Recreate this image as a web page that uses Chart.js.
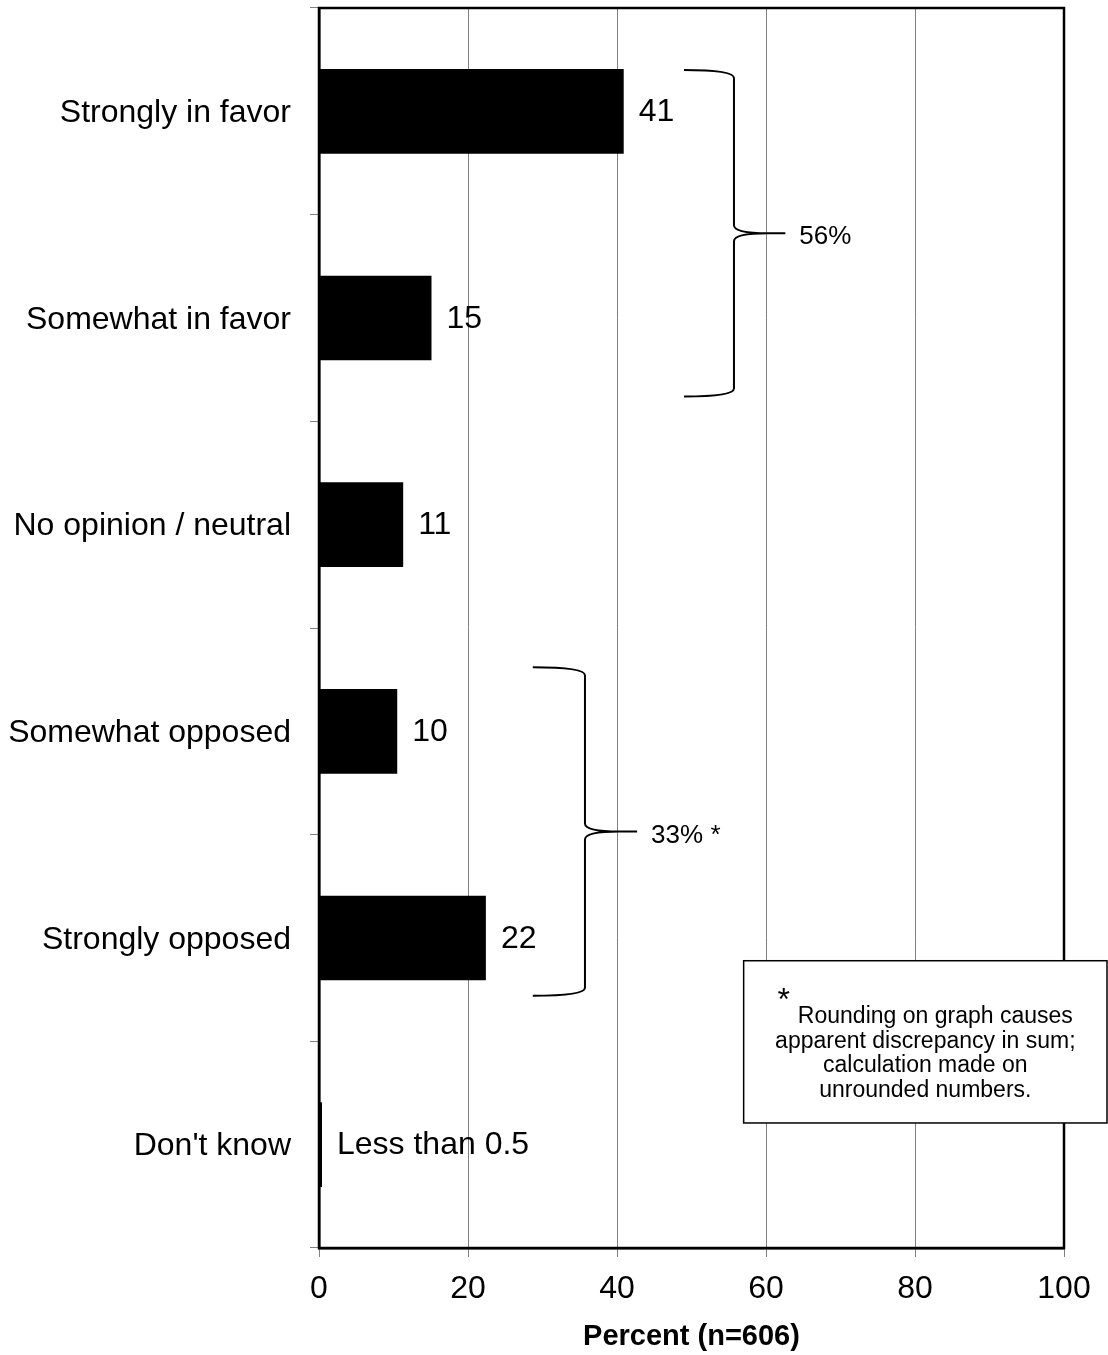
<!DOCTYPE html>
<html>
<head>
<meta charset="utf-8">
<script src="https://cdn.jsdelivr.net/npm/chart.js@4.4.1/dist/chart.umd.min.js"></script>
<style>
  html, body { margin: 0; padding: 0; background: #fff; }
  #wrap { width: 1108px; height: 1355px; }
</style>
</head>
<body>
<div id="wrap"><canvas id="chart"></canvas></div>
<script>
const categories = ["Strongly in favor", "Somewhat in favor", "No opinion / neutral", "Somewhat opposed", "Strongly opposed", "Don't know"];
const percents = [40.9, 15.1, 11.3, 10.5, 22.4, 0.4];
const valueLabels = ["41", "15", "11", "10", "22", "Less than 0.5"];
const xTicks = [0, 20, 40, 60, 80, 100];

// grouped totals shown with braces
const groupLabels = ["56%", "33% *"];
const groupTotals = [56, 33];

const noteLines = ["Rounding on graph causes", "apparent discrepancy in sum;", "calculation made on", "unrounded numbers."];

const FONT = "'Liberation Sans', Arial, Helvetica, sans-serif";

// bar value labels
const valueLabelPlugin = {
  id: "valueLabels",
  afterDatasetsDraw(chart) {
    const ctx = chart.ctx;
    const meta = chart.getDatasetMeta(0);
    ctx.save();
    ctx.font = "32px " + FONT;
    ctx.fillStyle = "#000";
    ctx.textAlign = "left";
    ctx.textBaseline = "middle";
    meta.data.forEach((bar, i) => {
      ctx.fillText(valueLabels[i], bar.x + 15, bar.y + 1);
    });
    ctx.restore();
  }
};

// frame, braces and footnote box
const annotationPlugin = {
  id: "extras",
  afterDraw(chart, args, opts) {
    const ctx = chart.ctx;
    const xs = chart.scales.x;
    const a = chart.chartArea;
    const catY = v => {
      const band = (a.bottom - a.top) / categories.length;
      return a.top + (v + 0.5) * band;
    };

    ctx.save();
    // outer frame
    ctx.strokeStyle = "#000";
    ctx.lineWidth = 2.5;
    ctx.strokeRect(a.left, a.top, a.right - a.left, a.bottom - a.top);

    // braces
    ctx.lineWidth = 2;
    opts.braces.forEach((b, i) => {
      const x0 = xs.getPixelForValue(b.start);
      const xv = xs.getPixelForValue(b.spine);
      const xt = xs.getPixelForValue(b.tip);
      const y0 = catY(b.from);
      const y1 = catY(b.to);
      const ym = (y0 + y1) / 2;
      const r = 8;
      const xj = xv + (xt - xv) * 0.65;
      ctx.beginPath();
      ctx.moveTo(x0, y0);
      ctx.quadraticCurveTo(xv, y0, xv, y0 + r);
      ctx.lineTo(xv, ym - r);
      ctx.quadraticCurveTo(xv, ym, xj, ym);
      ctx.lineTo(xt, ym);
      ctx.moveTo(xj, ym);
      ctx.quadraticCurveTo(xv, ym, xv, ym + r);
      ctx.lineTo(xv, y1 - r);
      ctx.quadraticCurveTo(xv, y1, x0, y1);
      ctx.stroke();

      ctx.font = "26px " + FONT;
      ctx.fillStyle = "#000";
      ctx.textAlign = "left";
      ctx.textBaseline = "middle";
      ctx.fillText(groupLabels[i], xt + 14, ym + 4);
    });

    // footnote box
    const n = opts.note;
    const bx = xs.getPixelForValue(n.left);
    const by0 = catY(n.top);
    const by1 = catY(n.bottom);
    const bx1 = chart.width - 1;
    ctx.fillStyle = "#fff";
    ctx.fillRect(bx, by0, bx1 - bx, by1 - by0);
    ctx.lineWidth = 1.5;
    ctx.strokeStyle = "#000";
    ctx.strokeRect(bx, by0, bx1 - bx, by1 - by0);
    const cx = (bx + bx1) / 2;
    ctx.fillStyle = "#000";
    ctx.textBaseline = "middle";
    ctx.textAlign = "center";
    ctx.font = "23px " + FONT;
    noteLines.forEach((line, i) => {
      const dx = i === 0 ? 10 : 0;
      ctx.fillText(line, cx + dx, by0 + 56 + i * 24.5);
    });
    ctx.textAlign = "left";
    ctx.font = "32px " + FONT;
    const w0 = ctx.measureText("*").width;
    ctx.font = "23px " + FONT;
    const wl = ctx.measureText(noteLines[0]).width;
    ctx.font = "32px " + FONT;
    ctx.fillText("*", cx + 10 - wl / 2 - w0 - 8, by0 + 40);
    ctx.restore();
  }
};

new Chart(document.getElementById("chart"), {
  type: "bar",
  data: {
    labels: categories,
    datasets: [{
      data: percents,
      backgroundColor: "#000",
      borderWidth: 0,
      categoryPercentage: 1,
      barPercentage: 0.41
    }]
  },
  options: {
    indexAxis: "y",
    responsive: true,
    maintainAspectRatio: false,
    animation: false,
    layout: { padding: { top: 8, right: 44, left: 0, bottom: 0 } },
    plugins: {
      legend: { display: false },
      tooltip: { enabled: false },
      extras: {
        braces: [
          { from: -0.2, to: 1.38, start: 49, spine: 55.7, tip: 62.6 },
          { from: 2.69, to: 4.28, start: 28.7, spine: 35.7, tip: 42.7 }
        ],
        note: { left: 57, top: 4.11, bottom: 4.895 }
      }
    },
    scales: {
      x: {
        min: 0,
        max: 100,
        afterBuildTicks: s => { s.ticks = xTicks.map(v => ({ value: v })); },
        afterFit: s => { s.height = 107; },
        ticks: { color: "#000", font: { size: 32, family: FONT }, padding: 13 },
        grid: { color: "#808080", lineWidth: 1, tickLength: 9, drawTicks: true },
        border: { display: true, color: "#000", width: 2.5 },
        title: {
          display: true,
          text: "Percent (n=606)",
          color: "#000",
          font: { size: 29, weight: "bold", family: FONT },
          padding: { top: 0, bottom: 1 }
        }
      },
      y: {
        afterFit: s => { s.width = 319; s.paddingTop = 0; s.paddingBottom = 0; },
        ticks: { color: "#000", font: { size: 32, family: FONT }, padding: 19, labelOffset: 2 },
        grid: { drawOnChartArea: false, color: "#808080", tickLength: 9, offset: true },
        border: { display: true, color: "#000", width: 2.5 }
      }
    }
  },
  plugins: [valueLabelPlugin, annotationPlugin]
});
</script>
</body>
</html>
